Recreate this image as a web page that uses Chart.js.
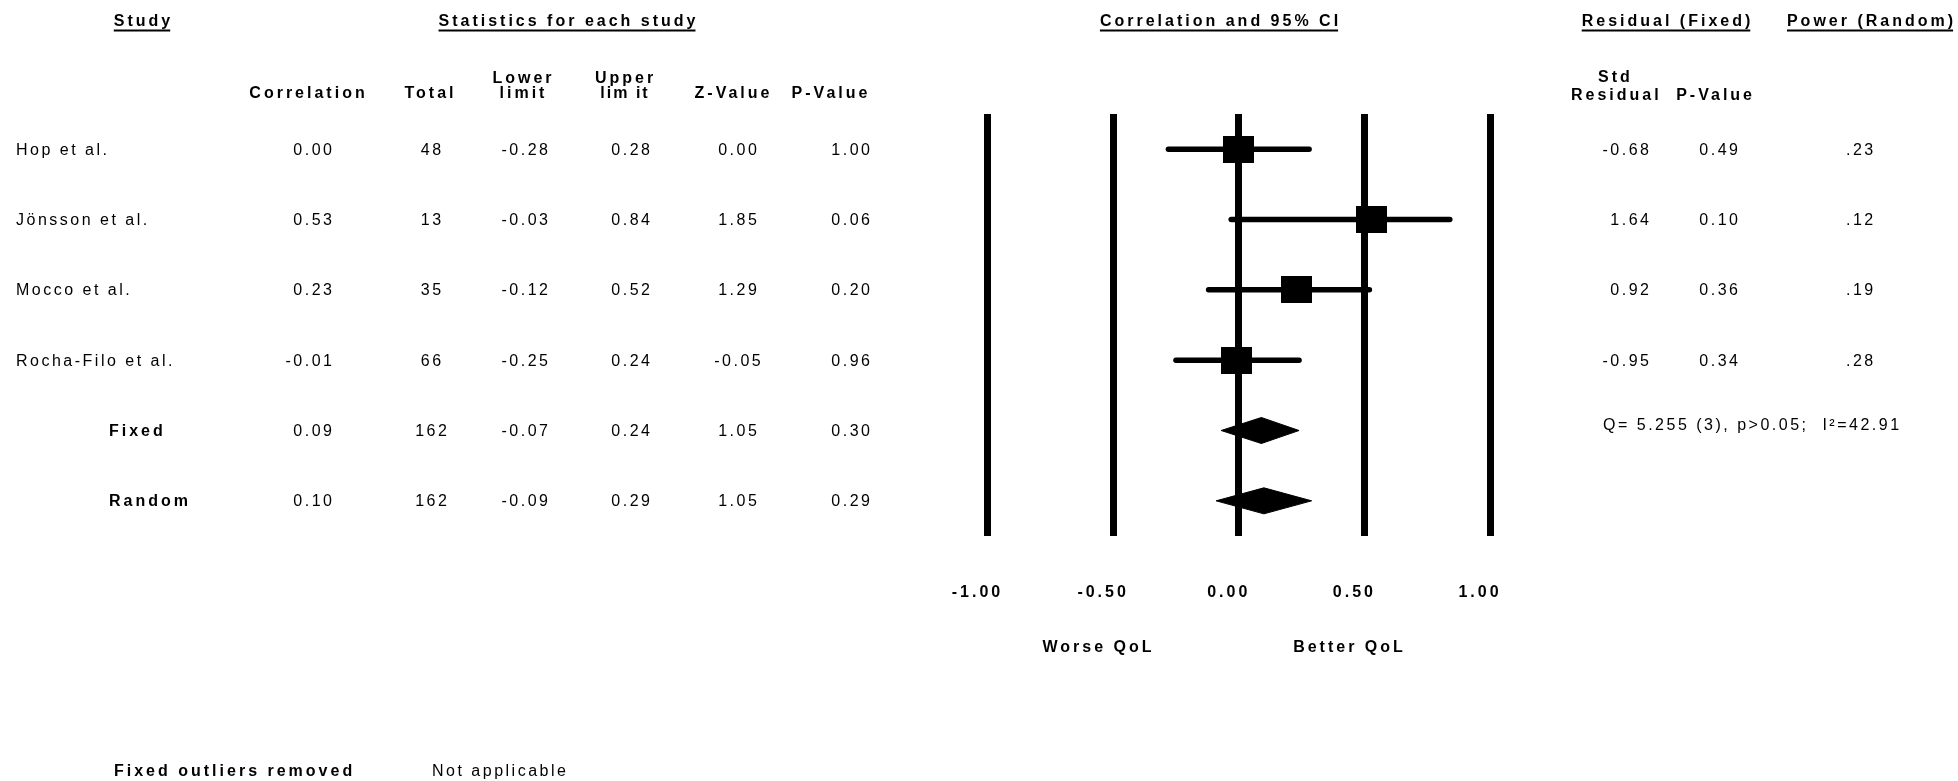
<!DOCTYPE html>
<html><head><meta charset="utf-8">
<script src="https://cdn.jsdelivr.net/npm/chart.js@4.4.1/dist/chart.umd.min.js"></script>
<style>html,body{margin:0;padding:0;background:#fff;overflow:hidden}canvas{display:block}</style>
</head><body>
<canvas id="c" width="1958" height="781"></canvas>
<script>
// ---------- data ----------
const studies = ['Hop et al.', 'Jönsson et al.', 'Mocco et al.', 'Rocha-Filo et al.'];
const summaries = ['Fixed', 'Random'];
const correlation = [0.00, 0.53, 0.23, -0.01, 0.09, 0.10];
const total = [48, 13, 35, 66, 162, 162];
const lowerLimit = [-0.28, -0.03, -0.12, -0.25, -0.07, -0.09];
const upperLimit = [0.28, 0.84, 0.52, 0.24, 0.24, 0.29];
const zValue = [0.00, 1.85, 1.29, -0.05, 1.05, 1.05];
const pValue = [1.00, 0.06, 0.20, 0.96, 0.30, 0.29];
const stdResidual = [-0.68, 1.64, 0.92, -0.95];
const residualP = [0.49, 0.10, 0.36, 0.34];
const powerRandom = ['.23', '.12', '.19', '.28'];
const heterogeneity = 'Q= 5.255 (3), p>0.05;  I²=42.91';
const xTicks = [-1, -0.5, 0, 0.5, 1];
const axisLabels = ['Worse QoL', 'Better QoL'];

// ---------- styles / layout ----------
const FONT = '"Liberation Sans", Arial, Helvetica, sans-serif';
const DIAMOND_HALF = 0.185; // in row units
const squareImg = document.createElement('canvas');
squareImg.width = 31; squareImg.height = 27;
(function(){ const g = squareImg.getContext('2d'); g.fillStyle = '#000'; g.fillRect(0,0,31,27); })();

const nStudies = studies.length;
const rowLabels = studies.concat(summaries);

const datasets = [];
studies.forEach((s, i) => {
  datasets.push({
    label: s + ' CI', showLine: true,
    data: [{x: lowerLimit[i], y: i}, {x: upperLimit[i], y: i}],
    borderColor: '#000', borderWidth: 5.5, borderCapStyle: 'round',
    pointRadius: 0
  });
});
datasets.push({
  label: 'Study estimate',
  data: studies.map((s, i) => ({x: correlation[i], y: i})),
  pointStyle: squareImg, pointRadius: 16, showLine: false
});
summaries.forEach((s, k) => {
  const i = nStudies + k;
  datasets.push({
    label: s, showLine: true, fill: 'shape', tension: 0,
    data: [
      {x: lowerLimit[i], y: i}, {x: correlation[i], y: i - DIAMOND_HALF},
      {x: upperLimit[i], y: i}, {x: correlation[i], y: i + DIAMOND_HALF},
      {x: lowerLimit[i], y: i}
    ],
    borderColor: '#000', backgroundColor: '#000', borderWidth: 1, pointRadius: 0
  });
});

function txt(ctx, s, x, y, o) {
  o = o || {};
  const size = o.size || 16, ls = (o.ls !== undefined) ? o.ls : (o.bold ? 3 : 2.5);
  const align = o.align || 'left';
  ctx.save();
  ctx.font = (o.italic ? 'italic ' : '') + (o.bold ? 'bold ' : '') + size + 'px ' + FONT;
  ctx.letterSpacing = ls + 'px';
  ctx.fillStyle = '#000';
  ctx.textBaseline = 'middle';
  ctx.textAlign = align;
  let xx = x;
  if (align === 'right') xx = x + ls;
  else if (align === 'center') xx = x + ls / 2;
  ctx.fillText(s, xx, y);
  if (o.underline) {
    const w = ctx.measureText(s).width - ls;
    let left = x;
    if (align === 'right') left = x - w;
    else if (align === 'center') left = x - w / 2;
    ctx.fillRect(left, y + 7.5, w, 2);
  }
  ctx.restore();
}

const tablePlugin = {
  id: 'table',
  beforeDraw(chart) { chart.ctx.letterSpacing = '3px'; },
  afterDraw(chart) {
    const ctx = chart.ctx;
    const ys = chart.scales.y;
    // headers
    txt(ctx, 'Study', 142, 22, {bold: true, underline: true, align: 'center'});
    txt(ctx, 'Statistics for each study', 567, 22, {bold: true, underline: true, align: 'center'});
    txt(ctx, 'Correlation and 95% CI', 1219, 22, {bold: true, underline: true, align: 'center'});
    txt(ctx, 'Residual (Fixed)', 1666, 22, {bold: true, underline: true, align: 'center'});
    txt(ctx, 'Power (Random)', 1870, 22, {bold: true, underline: true, align: 'center'});
    txt(ctx, 'Correlation', 307, 94, {bold: true, align: 'center'});
    txt(ctx, 'Total', 429, 94, {bold: true, align: 'center'});
    txt(ctx, 'Lower', 522, 79, {bold: true, align: 'center'});
    txt(ctx, 'limit', 522, 94, {bold: true, align: 'center'});
    txt(ctx, 'Upper', 624, 79, {bold: true, align: 'center'});
    txt(ctx, 'lim it', 624, 94, {bold: true, align: 'center', ls: 2});
    txt(ctx, 'Z-Value', 732, 94, {bold: true, align: 'center'});
    txt(ctx, 'P-Value', 829.5, 94, {bold: true, align: 'center'});
    txt(ctx, 'Std', 1598, 78, {bold: true});
    txt(ctx, 'Residual', 1571, 96, {bold: true});
    txt(ctx, 'P-Value', 1752, 96, {bold: true, align: 'right'});
    // rows
    rowLabels.forEach((name, i) => {
      const y = ys.getPixelForValue(i) + 1;
      if (i < nStudies) txt(ctx, name, 16, y);
      else txt(ctx, name, 109, y, {bold: true});
      txt(ctx, correlation[i].toFixed(2), 332, y, {align: 'right'});
      txt(ctx, String(total[i]), 431, y, {align: 'center'});
      txt(ctx, lowerLimit[i].toFixed(2), 548, y, {align: 'right'});
      txt(ctx, upperLimit[i].toFixed(2), 650, y, {align: 'right'});
      txt(ctx, zValue[i].toFixed(2), 737.5, y, {align: 'center'});
      txt(ctx, pValue[i].toFixed(2), 870, y, {align: 'right'});
      if (i < nStudies) {
        txt(ctx, stdResidual[i].toFixed(2), 1649, y, {align: 'right'});
        txt(ctx, residualP[i].toFixed(2), 1738, y, {align: 'right'});
        txt(ctx, powerRandom[i], 1846, y);
      }
    });
    txt(ctx, heterogeneity, 1603, ys.getPixelForValue(nStudies) - 5);
    // axis side labels
    txt(ctx, axisLabels[0], 1097, 648, {bold: true, align: 'center'});
    txt(ctx, axisLabels[1], 1348, 648, {bold: true, align: 'center'});
    // footer
    txt(ctx, 'Fixed outliers removed', 114, 772, {bold: true});
    txt(ctx, 'Not applicable', 432, 772);
  }
};

new Chart(document.getElementById('c'), {
  type: 'scatter',
  data: { datasets },
  options: {
    responsive: false, animation: false, devicePixelRatio: 1,
    layout: { padding: { left: 987.5, right: 468, top: 114, bottom: 0 } },
    plugins: { legend: { display: false }, tooltip: { enabled: false } },
    scales: {
      x: {
        type: 'linear', min: -1, max: 1,
        afterBuildTicks: s => { s.ticks = xTicks.map(v => ({value: v})); },
        afterFit: s => { s.height = 245; },
        ticks: {
          color: '#000', padding: 47, labelOffset: -10, maxRotation: 0,
          font: { family: FONT, size: 16, weight: 'bold' },
          callback: v => Number(v).toFixed(2)
        },
        grid: { color: '#000', lineWidth: 7, drawTicks: false },
        border: { display: false }
      },
      y: { type: 'linear', min: -0.5, max: 5.5, reverse: true, display: false }
    }
  },
  plugins: [tablePlugin]
});
</script>
</body></html>
